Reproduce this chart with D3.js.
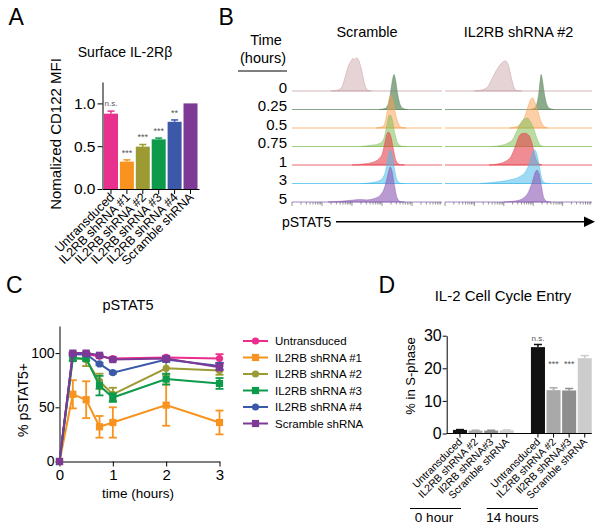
<!DOCTYPE html>
<html><head><meta charset="utf-8">
<script src="https://cdn.jsdelivr.net/npm/d3@7"></script>
<style>
body{margin:0;background:#fff;}
svg{display:block;font-family:"Liberation Sans",Arial,Helvetica,sans-serif;}
</style></head><body>
<svg id="fig" width="602" height="529"></svg>
<script>
// ---------- Panel A data ----------
const aCategories = ["Untransduced","IL2RB shRNA #1","IL2RB shRNA #2","IL2RB shRNA #3","IL2RB shRNA #4","Scramble shRNA"];
const aValues = [0.88, 0.32, 0.495, 0.58, 0.785, 1.0];
const aErrors = [0.03, 0.02, 0.025, 0.015, 0.022, 0];
const aSig = ["n.s.","***","***","***","**",""];
const aTicks = [0, 0.5, 1.0];
const aColors = ["#e8318e","#f7931e","#9b9a33","#0e9a4b","#3b59a8","#7e3996"];

// ---------- Panel B data ----------
const bTimes = ["0","0.25","0.5","0.75","1","3","5"];
const bConditions = ["Scramble","IL2RB shRNA #2"];
const bFill = ["#c79ea2","#5b875c","#fa9f50","#84bf57","#e6404b","#4fbbea","#8b59b4"];
const bFillOpacity = [0.45,0.7,0.5,0.55,0.6,0.55,0.6];
const bLine = ["#d2b4b7","#8aa38b","#fbb77d","#9fcd80","#ec6b72","#72cbf0","#a787c6"];
// histogram outlines: [log10 pSTAT5 (decades), normalised count]
const histScramble = [
 [[1.3,0],[1.5,0.02],[1.65,0.1],[1.78,0.42],[1.88,0.72],[1.96,0.84],[2.03,0.93],[2.09,0.9],[2.15,0.95],[2.22,0.88],[2.32,0.6],[2.42,0.2],[2.52,0.03],[2.65,0]],
 [[2.9,0],[3.1,0.03],[3.2,0.14],[3.28,0.45],[3.35,0.85],[3.4,1.0],[3.45,0.85],[3.52,0.45],[3.6,0.15],[3.7,0.03],[3.85,0]],
 [[2.8,0],[3.0,0.03],[3.1,0.15],[3.18,0.5],[3.25,0.85],[3.3,0.94],[3.36,0.8],[3.45,0.4],[3.55,0.12],[3.65,0.02],[3.8,0]],
 [[2.3,0],[2.6,0.03],[2.9,0.08],[3.05,0.2],[3.15,0.55],[3.22,0.85],[3.27,0.9],[3.33,0.8],[3.42,0.4],[3.52,0.1],[3.65,0.01],[3.8,0]],
 [[2.0,0],[2.4,0.03],[2.7,0.08],[2.9,0.18],[3.02,0.35],[3.1,0.65],[3.17,0.9],[3.22,0.94],[3.3,0.8],[3.38,0.45],[3.47,0.12],[3.6,0.01],[3.75,0]],
 [[2.3,0],[2.7,0.03],[2.95,0.1],[3.1,0.3],[3.18,0.65],[3.24,0.9],[3.28,0.96],[3.34,0.8],[3.42,0.4],[3.5,0.1],[3.62,0.01],[3.75,0]],
 [[1.2,0],[1.6,0.02],[2.0,0.05],[2.25,0.07],[2.5,0.06],[2.75,0.1],[2.95,0.2],[3.1,0.45],[3.2,0.8],[3.27,1.0],[3.33,0.9],[3.42,0.45],[3.5,0.12],[3.62,0.01],[3.75,0]]
];
const histShRNA2 = [
 [[1.0,0],[1.25,0.03],[1.45,0.12],[1.6,0.35],[1.72,0.55],[1.85,0.72],[1.95,0.82],[2.05,0.86],[2.15,0.75],[2.25,0.4],[2.35,0.1],[2.45,0.01],[2.6,0]],
 [[2.9,0],[3.05,0.04],[3.12,0.15],[3.19,0.45],[3.24,0.85],[3.27,1.0],[3.31,0.85],[3.38,0.45],[3.46,0.15],[3.56,0.03],[3.7,0]],
 [[2.2,0],[2.4,0.03],[2.55,0.1],[2.7,0.3],[2.82,0.6],[2.92,0.82],[2.98,0.86],[3.05,0.75],[3.15,0.5],[3.25,0.22],[3.35,0.06],[3.5,0]],
 [[1.6,0],[1.9,0.03],[2.1,0.08],[2.3,0.2],[2.45,0.45],[2.6,0.7],[2.72,0.8],[2.8,0.81],[2.9,0.72],[3.0,0.55],[3.12,0.25],[3.22,0.06],[3.35,0]],
 [[1.5,0],[1.8,0.03],[2.05,0.1],[2.25,0.25],[2.4,0.55],[2.52,0.82],[2.62,0.9],[2.72,0.91],[2.85,0.85],[2.95,0.65],[3.05,0.3],[3.15,0.07],[3.3,0]],
 [[1.2,0],[1.6,0.03],[2.0,0.07],[2.3,0.12],[2.55,0.2],[2.75,0.35],[2.88,0.6],[2.98,0.88],[3.05,0.96],[3.12,0.85],[3.22,0.45],[3.3,0.12],[3.42,0.01],[3.55,0]],
 [[2.0,0],[2.4,0.03],[2.65,0.1],[2.85,0.3],[2.98,0.6],[3.07,0.85],[3.13,0.91],[3.2,0.8],[3.28,0.45],[3.36,0.12],[3.48,0.01],[3.6,0]]
];
const bDecades = [0,1,2,3,4];
const bMinor = [1,2,3,4,5,6,7,8,9];

// ---------- Panel C data ----------
const cTimes = [0, 0.25, 0.5, 0.75, 1, 2, 3];
const cSeries = ["Untransduced","IL2RB shRNA #1","IL2RB shRNA #2","IL2RB shRNA #3","IL2RB shRNA #4","Scramble shRNA"];
const cUntransduced = [0, 99, 99, 97, 95, 96, 95];
const cUntransducedErr = [0, 1, 1, 1, 1, 1, 4];
const cShRNA1 = [0, 62, 57, 32, 36, 52, 36];
const cShRNA1Err = [0, 13, 17, 10, 14, 19, 11];
const cShRNA2 = [0, 96, 94, 74, 62, 86, 84];
const cShRNA2Err = [0, 3, 6, 7, 6, 6, 4];
const cShRNA3 = [0, 95, 95, 70, 59, 76, 72];
const cShRNA3Err = [0, 2, 2, 9, 4, 5, 5];
const cShRNA4 = [0, 99, 99, 90, 82, 94, 88];
const cShRNA4Err = [0, 1, 1, 1, 1, 2, 3];
const cScramble = [0, 100, 100, 98, 94, 95, 87];
const cScrambleErr = [0, 1, 1, 1, 1, 2, 3];
const cXTicks = [0,1,2,3];
const cYTicks = [0,50,100];
const cColors = ["#ec2d8c","#f7931e","#9b9a33","#0e9a4b","#3b59a8","#7e3996"];
const cShapes = ["circle","square","circle","square","circle","square"];

// ---------- Panel D data ----------
const dGroups = ["0 hour","14 hours"];
const dCategories = ["Untransduced","IL2RB shRNA #2","Il2RB shRNA#3","Scramble shRNA"];
const dValues0h = [1.1, 0.9, 0.9, 1.0];
const dErrors0h = [0.1, 0.1, 0.1, 0.1];
const dValues14h = [26.5, 13.3, 13.2, 23.1];
const dErrors14h = [0.8, 0.7, 0.6, 0.8];
const dSig14h = ["n.s.","***","***",""];
const dTicks = [0,10,20,30];
const dColors = ["#111111","#a9a9a9","#8e8e8e","#cccccc"];

// =====================================================
const FONT = '"Liberation Sans",Arial,Helvetica,sans-serif';
const svg = d3.select("#fig");
svg.append("rect").attr("width",602).attr("height",529).attr("fill","#fff");

function styleAxis(g, fs){
  g.attr("font-family",FONT).attr("font-size",fs);
  g.selectAll("path.domain").attr("stroke","#000").attr("stroke-width",1);
  g.selectAll(".tick line").attr("stroke","#000").attr("stroke-width",1);
  g.selectAll(".tick text").attr("fill","#000");
}
function txt(x,y,s,fs,anchor){
  return svg.append("text").attr("x",x).attr("y",y).attr("font-size",fs)
    .attr("text-anchor",anchor||"start").attr("fill","#000").text(s);
}
// panel letters
txt(8.5,25,"A",23); txt(218.5,25,"B",23); txt(6,293,"C",23); txt(378.5,293,"D",23);

// ================= Panel A =================
{
  const g = svg.append("g");
  const x = d3.scaleBand().domain(aCategories).range([102.5,199]).paddingInner(0.12).paddingOuter(0.094);
  const y = d3.scaleLinear().domain([0,1.25]).range([189,82]);
  g.selectAll("rect.bar").data(aCategories).join("rect")
    .attr("x",d=>x(d)).attr("width",x.bandwidth())
    .attr("y",(d,i)=>y(aValues[i])).attr("height",(d,i)=>y(0)-y(aValues[i]))
    .attr("fill",(d,i)=>aColors[i]);
  aCategories.forEach((c,i)=>{
    if(aErrors[i]>0){
      const cx = x(c)+x.bandwidth()/2;
      g.append("line").attr("x1",cx).attr("x2",cx).attr("y1",y(aValues[i])).attr("y2",y(aValues[i]+aErrors[i])).attr("stroke",aColors[i]).attr("stroke-width",1.5);
      g.append("line").attr("x1",cx-3.5).attr("x2",cx+3.5).attr("y1",y(aValues[i]+aErrors[i])).attr("y2",y(aValues[i]+aErrors[i])).attr("stroke",aColors[i]).attr("stroke-width",1.5);
    }
    if(aSig[i]){
      const isNs = aSig[i]==="n.s.";
      g.append("text").attr("x",x(c)+x.bandwidth()/2).attr("y",y(aValues[i]+aErrors[i])-(isNs?5:4))
        .attr("text-anchor","middle").attr("font-size",isNs?8:9).attr("fill","#555").text(aSig[i]);
    }
  });
  g.append("g").attr("transform","translate(102.5,0)")
    .call(d3.axisLeft(y).tickValues(aTicks).tickFormat(d3.format(".1f")).tickSize(5).tickPadding(2).tickSizeOuter(0))
    .call(styleAxis,15.5);
  const ax = g.append("g").attr("transform","translate(0,189)")
    .call(d3.axisBottom(x).tickSize(5).tickSizeOuter(0)).call(styleAxis,12.5);
  ax.selectAll(".tick text").attr("text-anchor","end").attr("x",null).attr("y",null).attr("dy",null)
    .attr("transform","translate(4,9) rotate(-45)");
  txt(125,57,"Surface IL-2Rβ",14,"middle");
  svg.append("text").attr("transform","translate(61,134) rotate(-90)").attr("text-anchor","middle")
    .attr("font-size",15).text("Nomalized CD122 MFI");
}

// ================= Panel B =================
{
  const g = svg.append("g");
  const xs = [d3.scaleLinear().domain([0,5]).range([292,442]), d3.scaleLinear().domain([0,5]).range([445,592])];
  const hists = [histScramble, histShRNA2];
  const row = d3.scalePoint().domain(bTimes).range([91,202]);
  const h = d3.scaleLinear().domain([0,1]).range([0,35]);
  xs.forEach((x,p)=>{
    bTimes.forEach((t,i)=>{
      const base = row(t);
      g.append("line").attr("x1",x.range()[0]).attr("x2",x.range()[1]).attr("y1",base).attr("y2",base)
        .attr("stroke",bLine[i]).attr("stroke-width",1.2);
      const area = d3.area().x(d=>x(d[0])).y0(base).y1(d=>base-h(d[1])).curve(d3.curveMonotoneX);
      g.append("path").datum(hists[p][i]).attr("d",area).attr("fill",bFill[i]).attr("fill-opacity",bFillOpacity[i])
        .attr("stroke",bFill[i]).attr("stroke-opacity",0.7).attr("stroke-width",0.7);
    });
    const ticks = [];
    bDecades.forEach(d=>bMinor.forEach(k=>ticks.push({v:d+Math.log10(k),major:k===1})));
    g.selectAll(null).data(ticks).join("line")
      .attr("x1",d=>x(d.v)).attr("x2",d=>x(d.v)).attr("y1",row("5")).attr("y2",d=>row("5")+(d.major?4:2.5))
      .attr("stroke","#666").attr("stroke-width",0.7);
    txt((x.range()[0]+x.range()[1])/2,37,bConditions[p],14.5,"middle");
  });
  bTimes.forEach(t=>txt(287,row(t)+1.5,t,15,"end"));
  txt(266,45,"Time",14.5,"middle");
  txt(263,63,"(hours)",14.5,"middle");
  g.append("line").attr("x1",238).attr("x2",287).attr("y1",71).attr("y2",71).attr("stroke","#000").attr("stroke-width",1);
  txt(282,226.5,"pSTAT5",14,"start");
  g.append("line").attr("x1",336).attr("x2",586).attr("y1",221.7).attr("y2",221.7).attr("stroke","#000").attr("stroke-width",1.6);
  g.append("path").attr("d","M584,216.5L595,221.7L584,226.9Z").attr("fill","#000");
}

// ================= Panel C =================
{
  const g = svg.append("g");
  const x = d3.scaleLinear().domain([0,3]).range([59.5,219.5]);
  const y = d3.scaleLinear().domain([0,125]).range([461.5,326]);
  g.append("g").attr("transform","translate(59.5,0)")
    .call(d3.axisLeft(y).tickValues(cYTicks).tickFormat(d3.format("d")).tickSize(4).tickPadding(1).tickSizeOuter(0)).call(styleAxis,14);
  g.append("g").attr("transform","translate(0,461.5)")
    .call(d3.axisBottom(x).tickValues(cXTicks).tickFormat(d3.format("d")).tickSize(5).tickPadding(3).tickSizeOuter(0)).call(styleAxis,15);
  const vals = [cUntransduced,cShRNA1,cShRNA2,cShRNA3,cShRNA4,cScramble];
  const errs = [cUntransducedErr,cShRNA1Err,cShRNA2Err,cShRNA3Err,cShRNA4Err,cScrambleErr];
  function marker(sel, shape, col){
    if(shape==="circle") sel.append("circle").attr("r",3.6).attr("fill",col);
    else sel.append("rect").attr("x",-3.6).attr("y",-3.6).attr("width",7.2).attr("height",7.2).attr("fill",col);
  }
  cSeries.forEach((s,i)=>{
    const col = cColors[i];
    const pts = cTimes.map((t,j)=>({t,v:vals[i][j],e:errs[i][j]}));
    const sg = g.append("g");
    pts.filter(p=>p.e>0).forEach(p=>{
      sg.append("line").attr("x1",x(p.t)).attr("x2",x(p.t)).attr("y1",y(p.v-p.e)).attr("y2",y(p.v+p.e)).attr("stroke",col).attr("stroke-width",1.8);
      [p.v-p.e,p.v+p.e].forEach(v=>sg.append("line").attr("x1",x(p.t)-4).attr("x2",x(p.t)+4).attr("y1",y(v)).attr("y2",y(v)).attr("stroke",col).attr("stroke-width",1.8));
    });
    sg.append("path").datum(pts).attr("d",d3.line().x(p=>x(p.t)).y(p=>y(p.v))).attr("fill","none").attr("stroke",col).attr("stroke-width",2);
    pts.forEach(p=>marker(sg.append("g").attr("transform",`translate(${x(p.t)},${y(p.v)})`),cShapes[i],col));
    // legend
    const ly = 341 + i*16.5;
    g.append("line").attr("x1",243).attr("x2",268).attr("y1",ly).attr("y2",ly).attr("stroke",col).attr("stroke-width",2);
    marker(g.append("g").attr("transform",`translate(255.5,${ly})`),cShapes[i],col);
    txt(275,ly+4,s,11.5,"start");
  });
  txt(128,310,"pSTAT5",14.5,"middle");
  txt(138,498,"time (hours)",13.5,"middle");
  svg.append("text").attr("transform","translate(27.5,400) rotate(-90)").attr("text-anchor","middle")
    .attr("font-size",14).text("% pSTAT5+");
}

// ================= Panel D =================
{
  const g = svg.append("g");
  const slots = [...dCategories.map(c=>dGroups[0]+"|"+c), "gap", ...dCategories.map(c=>dGroups[1]+"|"+c)];
  const x = d3.scaleBand().domain(slots).range([446.7,598]).paddingInner(0.1).paddingOuter(0.4);
  const y = d3.scaleLinear().domain([0,30]).range([433.5,335.7]);
  const rows = [];
  dCategories.forEach((c,i)=>rows.push({k:dGroups[0]+"|"+c,v:dValues0h[i],e:dErrors0h[i],col:dColors[i],sig:""}));
  dCategories.forEach((c,i)=>rows.push({k:dGroups[1]+"|"+c,v:dValues14h[i],e:dErrors14h[i],col:dColors[i],sig:dSig14h[i]}));
  rows.forEach(r=>{
    const cx = x(r.k)+x.bandwidth()/2;
    g.append("rect").attr("x",x(r.k)).attr("width",x.bandwidth()).attr("y",y(r.v)).attr("height",y(0)-y(r.v)).attr("fill",r.col);
    g.append("line").attr("x1",cx).attr("x2",cx).attr("y1",y(r.v)).attr("y2",y(r.v+r.e)).attr("stroke",r.col).attr("stroke-width",1.5);
    g.append("line").attr("x1",cx-4).attr("x2",cx+4).attr("y1",y(r.v+r.e)).attr("y2",y(r.v+r.e)).attr("stroke",r.col).attr("stroke-width",1.5);
    if(r.sig==="n.s.") g.append("text").attr("x",cx).attr("y",y(r.v+r.e)-4).attr("text-anchor","middle").attr("font-size",8).attr("fill","#555").text(r.sig);
    else if(r.sig) g.append("text").attr("x",cx).attr("y",y(20.5)).attr("text-anchor","middle").attr("font-size",9).attr("fill","#555").text(r.sig);
  });
  g.append("g").attr("transform","translate(446.7,0)")
    .call(d3.axisLeft(y).tickValues(dTicks).tickSize(4).tickPadding(1).tickSizeOuter(0)).call(styleAxis,16);
  const last = slots[slots.length-1];
  const ax = g.append("g").attr("transform","translate(0,433.5)")
    .call(d3.axisBottom(x).tickValues(slots.filter(s=>s!=="gap")).tickSize(4).tickSizeOuter(0)
      .tickFormat(s=>s.split("|")[1])).call(styleAxis,10.5);
  ax.select("path.domain").attr("d",`M446.7,0H${x(last)+x.bandwidth()}`);
  ax.selectAll(".tick text").attr("text-anchor","end").attr("x",null).attr("y",null).attr("dy",null)
    .attr("transform","translate(3,9) rotate(-45)");
  // group brackets
  g.append("line").attr("x1",410).attr("x2",461).attr("y1",508.5).attr("y2",508.5).attr("stroke","#000");
  g.append("line").attr("x1",486.7).attr("x2",538).attr("y1",508.5).attr("y2",508.5).attr("stroke","#000");
  txt(434,522,dGroups[0],13.5,"middle");
  txt(512.5,522,dGroups[1],13.5,"middle");
  txt(503,301,"IL-2 Cell Cycle Entry",15,"middle");
  svg.append("text").attr("transform","translate(415,376) rotate(-90)").attr("text-anchor","middle")
    .attr("font-size",13).text("% in S-phase");
}
</script></body></html>
